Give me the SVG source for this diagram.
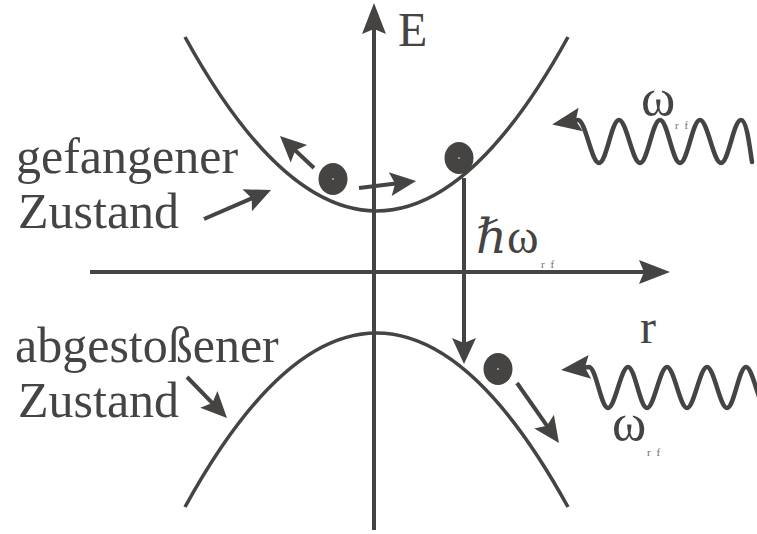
<svg xmlns="http://www.w3.org/2000/svg" width="757" height="534" viewBox="0 0 757 534">
<style>
.ln{fill:none;stroke:#464442;stroke-width:4;stroke-linecap:butt}
.crv{fill:none;stroke:#464442;stroke-width:3.6}
.wv{fill:none;stroke:#464442;stroke-width:4.5;stroke-linecap:round;stroke-linejoin:round}
text{font-family:"Liberation Serif","Times New Roman","DejaVu Serif",serif;fill:#464442}
.lab{font-size:50px}
.sub{font-size:11px;fill:#6e6e6e;letter-spacing:1.5px}
.om{font-size:52px}
.dot{fill:#464442}
.c{fill:#fff}
</style>
<defs>
<marker id="ah" markerUnits="userSpaceOnUse" orient="auto" refX="0" refY="0" markerWidth="60" markerHeight="60" viewBox="-30 -30 60 60" overflow="visible">
<path d="M8,0 L-18,-12 L-13,0 L-18,12 Z" fill="#464442"/>
</marker>
<marker id="ahs" markerUnits="userSpaceOnUse" orient="auto-start-reverse" refX="0" refY="0" markerWidth="60" markerHeight="60" viewBox="-30 -30 60 60" overflow="visible">
<path d="M9,0 L-20,-12 L-15,0 L-20,12 Z" fill="#464442"/>
</marker>
<marker id="axh" markerUnits="userSpaceOnUse" orient="auto" refX="0" refY="0" markerWidth="60" markerHeight="60" viewBox="-30 -30 60 60" overflow="visible">
<path d="M10,0 L-21,-12 L-16,0 L-21,12 Z" fill="#464442"/>
</marker>
</defs>

<g id="axes">
<path class="ln" d="M374,530 L374,13" marker-end="url(#axh)"/>
<path class="ln" d="M90,272 L660,272" marker-end="url(#axh)"/>
<text x="398" y="46" font-size="48">E</text>
<text x="640" y="343" font-size="48">r</text>
</g>

<g id="upper-curve">
<path class="crv" d="M185,37 Q376.5,385 568,37"/>
</g>
<g id="lower-curve">
<path class="crv" d="M185,507 Q376.5,159 568,507"/>
</g>

<g id="particle-left">
<ellipse class="dot" cx="333" cy="179" rx="14.5" ry="16"/>
<circle class="c" cx="333" cy="179" r="0.8"/>
</g>
<g id="particle-right">
<ellipse class="dot" cx="459" cy="158" rx="14.5" ry="16"/>
<circle class="c" cx="459" cy="158" r="0.8"/>
</g>
<g id="particle-lower">
<ellipse class="dot" cx="498" cy="369" rx="14.5" ry="16"/>
<circle class="c" cx="498" cy="369" r="0.8"/>
</g>

<g id="label-trapped">
<text class="lab" x="16" y="173">gefangener</text>
<text class="lab" x="18" y="228">Zustand</text>
</g>
<g id="label-repelled">
<text class="lab" x="15" y="362">abgestoßener</text>
<text class="lab" x="18" y="417">Zustand</text>
</g>

<g id="label-hbar">
<text x="476" y="253" font-size="48"><tspan font-style="italic">ℏ</tspan>ω</text>
<text class="sub" x="541" y="268">r f</text>
</g>

<g id="wave-top">
<path class="wv" d="M561,123 L578,120 C585.5,120 591.5,163 599,163 S611.5,120 619,120 S632.5,163 640,163 S652.5,120 660,120 S672.5,163 680,163 S692.5,120 700,120 S713.5,163 721,163 S733.5,120 741,120 C747,120 750,150 752,162" marker-start="url(#ahs)"/>
<text class="om" x="641" y="115">ω</text>
<text class="sub" x="675" y="129">r f</text>
</g>

<g id="wave-bottom">
<path class="wv" d="M570,369 L589,367 C596,367 601,408 608,408 S621,367 628,367 S640,408 647,408 S660,367 667,367 S680,408 687,408 S700,367 707,367 S720,408 727,408 S739,367 746,367 S759,408 766,408" marker-start="url(#ahs)"/>
<text class="om" x="612" y="440">ω</text>
<text class="sub" x="647" y="456">r f</text>
</g>

<g id="connectors">
<path class="ln" d="M314,168 L285.8,141.5" marker-end="url(#ah)"/>
<path class="ln" d="M359,188 L408.1,182" marker-end="url(#ah)"/>
<path class="ln" d="M464,178 L464,356" marker-end="url(#ah)"/>
<path class="ln" d="M517,383 L554.4,436.4" marker-end="url(#ah)"/>
<path class="ln" d="M204,219 L263.7,193.2" marker-end="url(#ah)"/>
<path class="ln" d="M187,377 L221.4,412.3" marker-end="url(#ah)"/>
</g>
</svg>
